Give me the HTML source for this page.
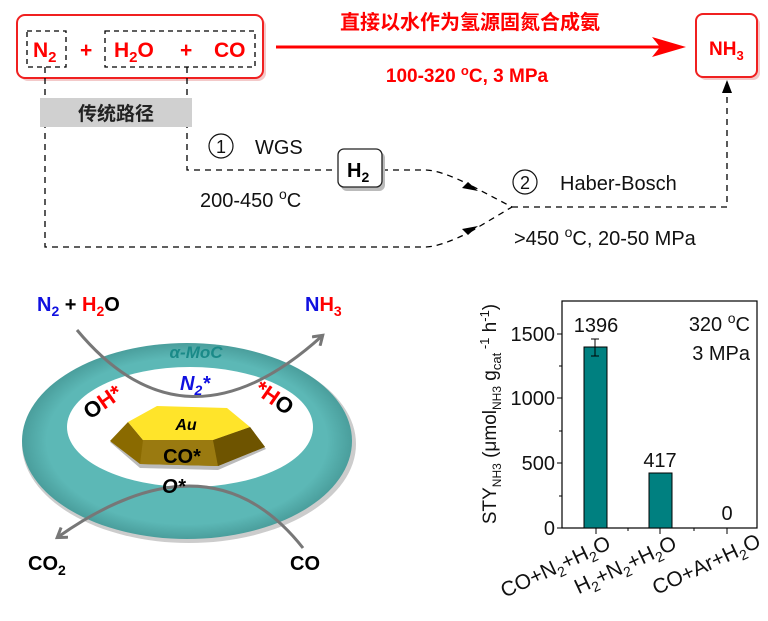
<!DOCTYPE html>
<html><head><meta charset="utf-8"><style>
body{margin:0;background:#fff}
svg{display:block;font-family:"Liberation Sans","Noto Sans CJK SC",sans-serif}
</style></head><body>
<svg width="768" height="621" viewBox="0 0 768 621" xmlns="http://www.w3.org/2000/svg">
<defs>
<marker id="ag" markerWidth="14" markerHeight="14" refX="10" refY="7" orient="auto" markerUnits="userSpaceOnUse"><path d="M2,1 L11,7 L2,13" fill="none" stroke="#777" stroke-width="3"/></marker>
<radialGradient id="rg" cx="50%" cy="50%" r="50%"><stop offset="85%" stop-color="#5cb8b6"/><stop offset="100%" stop-color="#4a9e9c"/></radialGradient>
</defs>
<rect x="20" y="18" width="246" height="63" rx="8" fill="#f3c9c9"/>
<rect x="17" y="15" width="246" height="63" rx="8" fill="#fff" stroke="#f02020" stroke-width="2"/>
<rect x="27" y="31" width="39" height="36" fill="none" stroke="#000" stroke-width="1.3" stroke-dasharray="5,4"/>
<rect x="105" y="31" width="150" height="36" fill="none" stroke="#000" stroke-width="1.3" stroke-dasharray="5,4"/>
<g fill="#f00" font-weight="bold" font-size="21">
<text x="33" y="57">N<tspan font-size="15" dy="5">2</tspan></text>
<text x="80" y="57">+</text>
<text x="114" y="57">H<tspan font-size="15" dy="5">2</tspan><tspan dy="-5">O</tspan></text>
<text x="180" y="57">+</text>
<text x="214" y="57">CO</text>
</g>
<line x1="276" y1="47" x2="670" y2="47" stroke="#f00" stroke-width="3"/>
<path d="M652,37 L686,47 L652,57 L660,47z" fill="#f00"/>
<text x="470" y="29" text-anchor="middle" fill="#f00" font-weight="bold" font-size="20">直接以水作为氢源固氮合成氨</text>
<text x="467" y="82" text-anchor="middle" fill="#f00" font-weight="bold" font-size="19">100-320 <tspan font-size="13" dy="-7">o</tspan><tspan dy="7">C, 3 MPa</tspan></text>
<rect x="699" y="17" width="61" height="63" rx="7" fill="#f3c9c9"/>
<rect x="696" y="14" width="61" height="63" rx="7" fill="#fff" stroke="#f02020" stroke-width="2"/>
<text x="709" y="55" fill="#f00" font-weight="bold" font-size="19">NH<tspan font-size="13" dy="5">3</tspan></text>
<g fill="none" stroke="#000" stroke-width="1.3" stroke-dasharray="6,5">
<path d="M45,67 V247 H425 Q440,247 470,232"/>
<path d="M187,67 V170 H332"/>
<path d="M382,170 H425 Q440,170 470,185"/>
<path d="M470,232 L512,207 L470,185"/>
<path d="M512,207 H727 V90"/>
</g>
<path d="M462,188 L478,191 L468,182z" fill="#000"/>
<path d="M462,229 L478,226 L468,235z" fill="#000"/>
<path d="M727,80 L722,93 L732,93z" fill="#000"/>
<rect x="40" y="98" width="152" height="29" fill="#d0d0d0"/>
<text x="116" y="120" text-anchor="middle" font-weight="bold" font-size="19" fill="#222">传统路径</text>
<rect x="341" y="152" width="44" height="39" rx="6" fill="#bbb"/>
<rect x="338" y="149" width="44" height="38" rx="6" fill="#fff" stroke="#222" stroke-width="1.3"/>
<text x="347" y="177" font-weight="bold" font-size="20">H<tspan font-size="14" dy="5">2</tspan></text>
<g font-size="20" fill="#111">
<circle cx="221" cy="146" r="12" fill="none" stroke="#111" stroke-width="1.2"/>
<text x="221" y="153" text-anchor="middle" font-size="18">1</text>
<text x="255" y="154">WGS</text>
<text x="200" y="207">200-450 <tspan font-size="14" dy="-8">o</tspan><tspan dy="8">C</tspan></text>
<circle cx="525" cy="182" r="12" fill="none" stroke="#111" stroke-width="1.2"/>
<text x="525" y="189" text-anchor="middle" font-size="18">2</text>
<text x="560" y="190">Haber-Bosch</text>
<text x="514" y="245">&gt;450 <tspan font-size="14" dy="-8">o</tspan><tspan dy="8">C, 20-50 MPa</tspan></text>
</g>
<ellipse cx="189" cy="444" rx="167" ry="99" fill="#ccc"/>
<ellipse cx="187" cy="441" rx="165" ry="98" fill="url(#rg)"/>
<ellipse cx="190" cy="427" rx="123" ry="60" fill="#fff"/>
<polygon points="110,442 140,468 218,470 266,449 250,430 143,442" fill="#bbb"/>
<polygon points="110,441 128,422 143,440 213,440 250,427 265,447 218,466 140,464" fill="#8a6a00"/>
<polygon points="143,440 213,440 218,466 140,464" fill="#9a7a10"/>
<polygon points="213,440 250,427 265,447 218,466" fill="#6e5400"/>
<polygon points="128,422 157,406 227,408 250,427 213,440 143,440" fill="#ffe42a"/>
<text x="186" y="430" text-anchor="middle" font-style="italic" font-weight="bold" font-size="16">Au</text>
<text x="182" y="463" text-anchor="middle" font-size="20" font-weight="bold">CO*</text>
<path d="M77,330 Q185,460 322,336" fill="none" stroke="#777" stroke-width="3" marker-end="url(#ag)"/>
<path d="M303,548 Q210,430 58,537" fill="none" stroke="#777" stroke-width="3" marker-end="url(#ag)"/>
<text x="196" y="358" text-anchor="middle" fill="#1a8a88" font-style="italic" font-weight="bold" font-size="17">α-MoC</text>
<text x="180" y="390" fill="#1010e0" font-style="italic" font-weight="bold" font-size="20">N<tspan font-size="14" dy="5">2</tspan><tspan dy="-5">*</tspan></text>
<text x="162" y="493" font-style="italic" font-weight="bold" font-size="20">O*</text>
<text transform="translate(90,420) rotate(-35)" font-weight="bold" font-size="22">O<tspan fill="#f00">H*</tspan></text>
<text transform="translate(253,392) rotate(35)" font-weight="bold" font-size="22"><tspan fill="#f00">*H</tspan>O</text>
<g font-weight="bold" font-size="20">
<text x="37" y="311"><tspan fill="#1010e0">N<tspan font-size="14" dy="5">2</tspan></tspan><tspan dy="-5"> + </tspan><tspan fill="#f00">H<tspan font-size="14" dy="5">2</tspan></tspan><tspan dy="-5">O</tspan></text>
<text x="305" y="311"><tspan fill="#1010e0">N</tspan><tspan fill="#f00">H<tspan font-size="14" dy="5">3</tspan></tspan></text>
<text x="28" y="570">CO<tspan font-size="14" dy="5">2</tspan></text>
<text x="290" y="570">CO</text>
</g>
<rect x="562" y="301" width="195" height="227" fill="none" stroke="#000" stroke-width="1.2"/>
<rect x="584" y="347" width="23" height="181" fill="#008080" stroke="#000" stroke-width="1"/>
<rect x="649" y="473" width="23" height="55" fill="#008080" stroke="#000" stroke-width="1"/>
<path d="M595,339 V356 M591,339 H599 M591,356 H599" stroke="#000" stroke-width="1"/>
<g stroke="#000" stroke-width="1">
<path d="M562,334 H557 M562,398 H557 M562,463 H557 M562,528 H557 M562,366 H559 M562,431 H559 M562,496 H559"/>
<path d="M596,528 V534 M660,528 V534 M727,528 V534 M628,528 V531 M694,528 V531"/>
</g>
<g font-size="20" fill="#111">
<text x="555" y="341" text-anchor="end">1500</text>
<text x="555" y="405" text-anchor="end">1000</text>
<text x="555" y="470" text-anchor="end">500</text>
<text x="555" y="535" text-anchor="end">0</text>
<text x="596" y="332" text-anchor="middle">1396</text>
<text x="660" y="467" text-anchor="middle">417</text>
<text x="727" y="520" text-anchor="middle">0</text>
<text x="750" y="331" text-anchor="end">320 <tspan font-size="14" dy="-8">o</tspan><tspan dy="8">C</tspan></text>
<text x="750" y="360" text-anchor="end">3 MPa</text>
<g font-size="21">
<text transform="translate(612,548) rotate(-25)" text-anchor="end">CO+N<tspan font-size="14" dy="5">2</tspan><tspan dy="-5">+H</tspan><tspan font-size="14" dy="5">2</tspan><tspan dy="-5">O</tspan></text>
<text transform="translate(678,548) rotate(-25)" text-anchor="end">H<tspan font-size="14" dy="5">2</tspan><tspan dy="-5">+N</tspan><tspan font-size="14" dy="5">2</tspan><tspan dy="-5">+H</tspan><tspan font-size="14" dy="5">2</tspan><tspan dy="-5">O</tspan></text>
<text transform="translate(762,546) rotate(-25)" text-anchor="end">CO+Ar+H<tspan font-size="14" dy="5">2</tspan><tspan dy="-5">O</tspan></text>
</g>
<text transform="translate(496,414) rotate(-90)" text-anchor="middle" font-size="19">STY<tspan font-size="12" dy="5">NH3</tspan><tspan dy="-5"> (μmol</tspan><tspan font-size="12" dy="5">NH3</tspan><tspan dy="-5"> g</tspan><tspan font-size="13" dy="5">cat</tspan><tspan font-size="13" dy="-12"> -1</tspan><tspan dy="7"> h</tspan><tspan font-size="13" dy="-7">-1</tspan><tspan dy="7">)</tspan></text>
</g>
</svg>
</body></html>
